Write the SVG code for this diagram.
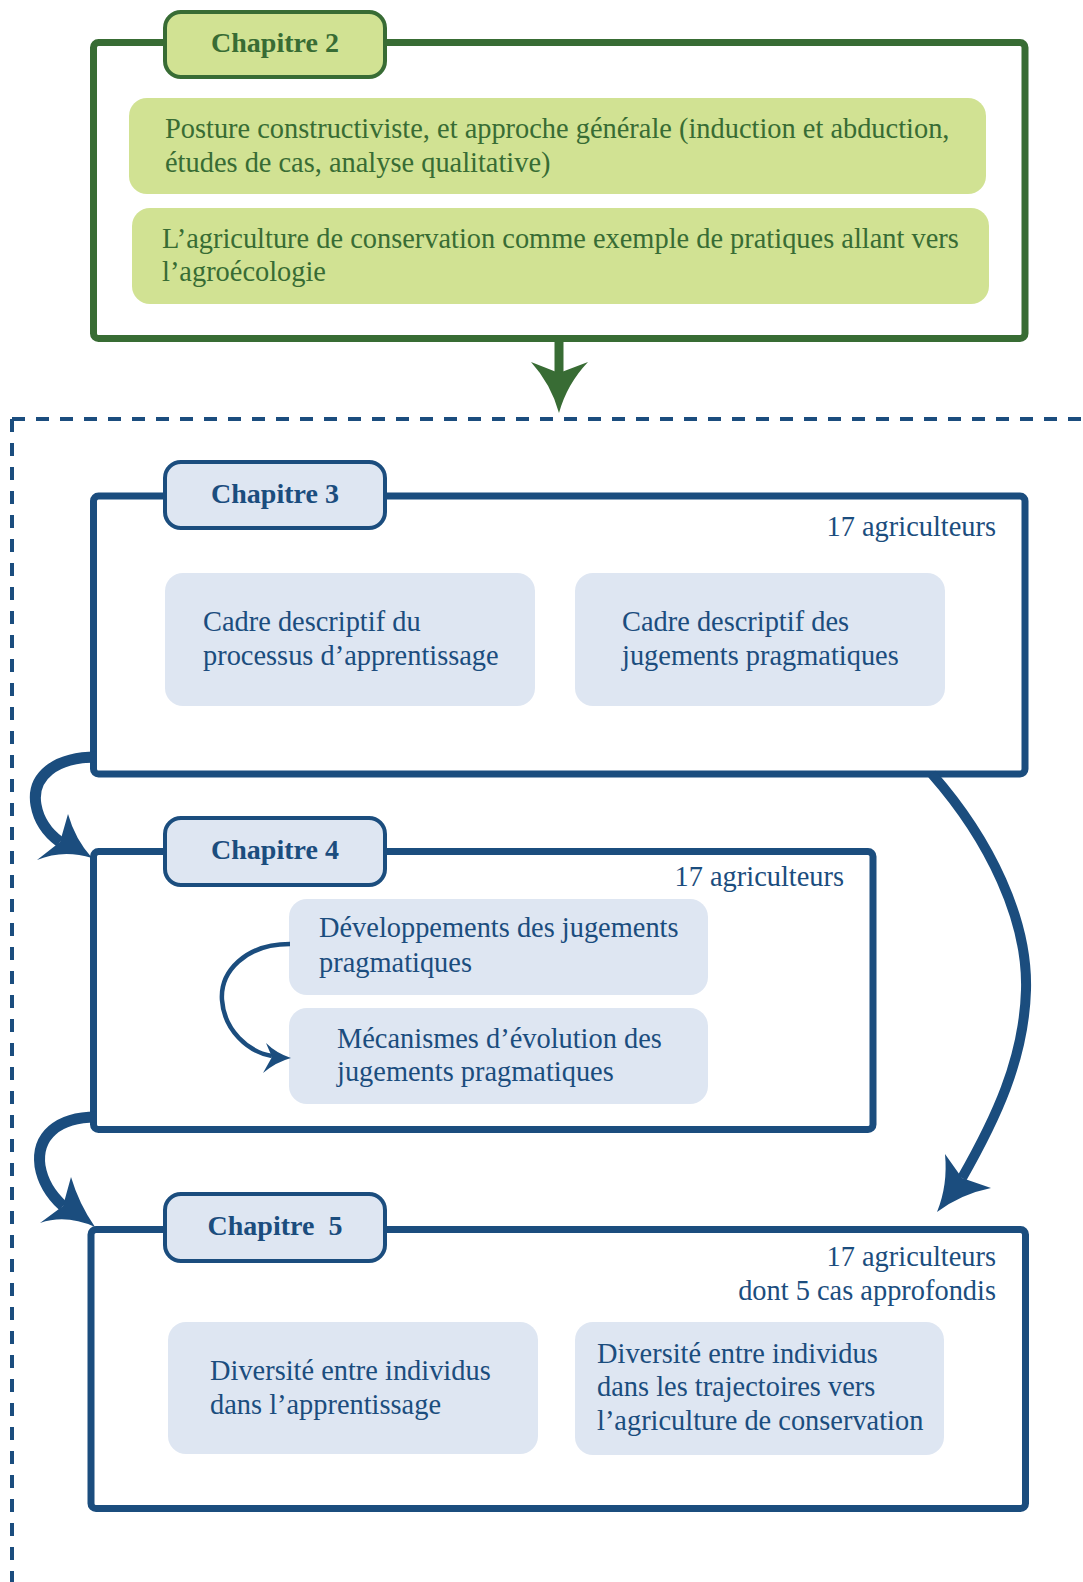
<svg xmlns="http://www.w3.org/2000/svg" width="1083" height="1582" viewBox="0 0 1083 1582">
<style>
text{font-family:"Liberation Serif","Times New Roman",serif;font-size:28.4px}
.g{fill:#386C34}
.b{fill:#1B4D7E}
.tab{font-weight:bold;text-anchor:middle;font-size:28px}
.end{text-anchor:end}
.frameG{fill:#fff;stroke:#386C34;stroke-width:7}
.frameB{fill:#fff;stroke:#1B4D7E;stroke-width:7}
.tabG{fill:#D1E293;stroke:#386C34;stroke-width:4}
.tabB{fill:#DEE6F2;stroke:#1B4D7E;stroke-width:4}
.boxG{fill:#D1E293}
.boxB{fill:#DEE6F2}
.link{fill:none;stroke:#1B4D7E;stroke-width:11}
.head{fill:#1B4D7E}
</style>
<rect width="1083" height="1582" fill="#fff"/>
<path d="M12,419 H1083 M12,419 V1582" fill="none" stroke="#1B4D7E" stroke-width="4" stroke-dasharray="13 11"/>

<g id="chapitre2">
<rect class="frameG" x="93.5" y="42.5" width="931.5" height="296" rx="5"/>
<rect class="tabG" x="165" y="12" width="220" height="65" rx="16"/>
<text class="g tab" x="275" y="52">Chapitre 2</text>
<rect class="boxG" x="129" y="98" width="857" height="96" rx="18"/>
<text class="g" x="165" y="138">Posture constructiviste, et approche générale (induction et abduction,</text>
<text class="g" x="165" y="172">études de cas, analyse qualitative)</text>
<rect class="boxG" x="132" y="208" width="857" height="96" rx="18"/>
<text class="g" x="162" y="248">L’agriculture de conservation comme exemple de pratiques allant vers</text>
<text class="g" x="162" y="281">l’agroécologie</text>
</g>

<g id="chapitre3">
<rect class="frameB" x="93.5" y="496" width="931.5" height="278" rx="5"/>
<rect class="tabB" x="165" y="462" width="220" height="66" rx="16"/>
<text class="b tab" x="275" y="503">Chapitre 3</text>
<text class="b end" x="996" y="536">17 agriculteurs</text>
<rect class="boxB" x="165" y="573" width="370" height="133" rx="18"/>
<text class="b" x="203" y="631">Cadre descriptif du</text>
<text class="b" x="203" y="665">processus d’apprentissage</text>
<rect class="boxB" x="575" y="573" width="370" height="133" rx="18"/>
<text class="b" x="622" y="631">Cadre descriptif des</text>
<text class="b" x="622" y="665">jugements pragmatiques</text>
</g>

<g id="chapitre4">
<rect class="frameB" x="93.5" y="851.5" width="779.5" height="278" rx="5"/>
<rect class="tabB" x="165" y="818" width="220" height="67" rx="16"/>
<text class="b tab" x="275" y="859">Chapitre 4</text>
<text class="b end" x="844" y="886">17 agriculteurs</text>
<rect class="boxB" x="289" y="899" width="419" height="96" rx="18"/>
<text class="b" x="319" y="937">Développements des jugements</text>
<text class="b" x="319" y="972">pragmatiques</text>
<rect class="boxB" x="289" y="1008" width="419" height="96" rx="18"/>
<text class="b" x="337" y="1048">Mécanismes d’évolution des</text>
<text class="b" x="337" y="1081">jugements pragmatiques</text>
</g>

<g id="chapitre5">
<rect class="frameB" x="91" y="1229.5" width="934.5" height="279" rx="5"/>
<rect class="tabB" x="165" y="1194" width="220" height="67" rx="16"/>
<text class="b tab" x="275" y="1235" xml:space="preserve">Chapitre  5</text>
<text class="b end" x="996" y="1266">17 agriculteurs</text>
<text class="b end" x="996" y="1300">dont 5 cas approfondis</text>
<rect class="boxB" x="168" y="1322" width="370" height="132" rx="18"/>
<text class="b" x="210" y="1380">Diversité entre individus</text>
<text class="b" x="210" y="1414">dans l’apprentissage</text>
<rect class="boxB" x="575" y="1322" width="369" height="133" rx="18"/>
<text class="b" x="597" y="1363">Diversité entre individus</text>
<text class="b" x="597" y="1396">dans les trajectoires vers</text>
<text class="b" x="597" y="1430">l’agriculture de conservation</text>
</g>

<g id="connectors">
<path d="M559,341 V376" fill="none" stroke="#386C34" stroke-width="9"/>
<path d="M559,413 Q551,384 531,362 L559,373 L588,362 Q567,384 559,413 Z" fill="#386C34"/>

<path class="link" d="M96,757 C56,757 31,776 36,805 C39,822 49,834 60,842"/>
<path class="head" d="M92,858 Q63,849 37,860 L60,842 L68,814 Q75,839 92,858 Z"/>

<path class="link" d="M96,1117 C58,1117 36,1136 40,1166 C43,1184 52,1196 63,1206"/>
<path class="head" d="M95,1227 Q66,1214 40,1223 L63,1206 L71,1177 Q79,1204 95,1227 Z"/>

<path class="link" style="stroke-width:10" d="M932,774 C990,840 1028,920 1026,990 C1024,1060 995,1120 962,1178"/>
<path class="head" d="M937,1212 Q948,1185 945,1154 L962,1178 L991,1188 Q961,1194 937,1212 Z"/>

<path d="M290,944 C245,944 220,972 222,1000 C224,1030 248,1052 272,1056" fill="none" stroke="#1B4D7E" stroke-width="4.5"/>
<path class="head" d="M291,1058 Q276,1062 263,1073 L272,1057 L266,1043 Q276,1053 291,1058 Z"/>
</g>
</svg>
